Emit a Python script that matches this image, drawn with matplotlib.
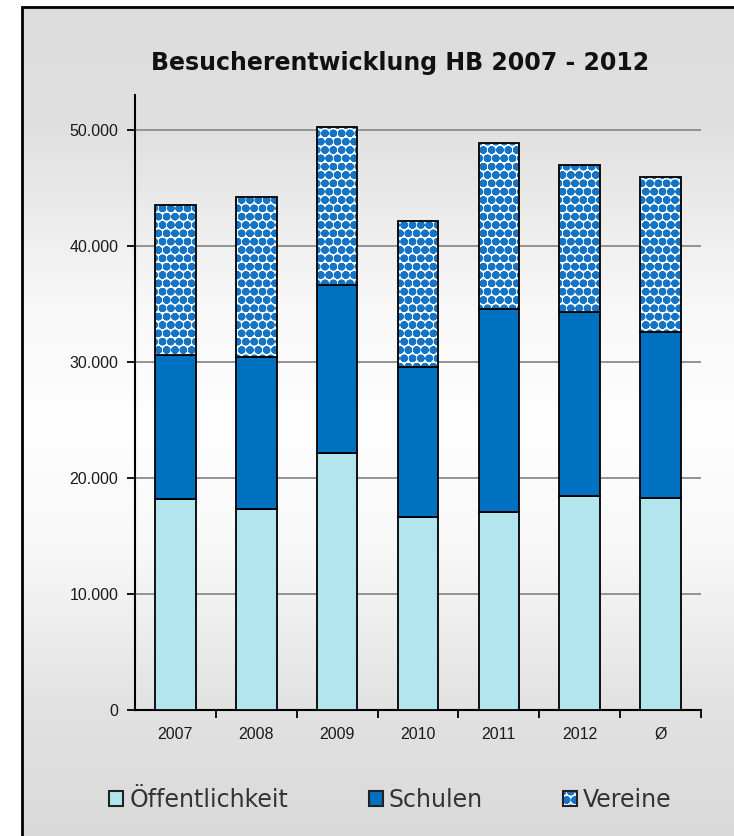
import numpy as np
import matplotlib.pyplot as plt
from matplotlib.patches import Rectangle
from matplotlib.ticker import FuncFormatter, FixedLocator

# Daten
jahre = ['2007', '2008', '2009', '2010', '2011', '2012', 'Ø']
oeffentlichkeit = [18190, 17330, 22150, 16610, 17100, 18450, 18300]
schulen = [12410, 13100, 14490, 12930, 17440, 15890, 14300]
vereine = [12940, 13790, 13620, 12640, 14310, 12640, 13300]

plt.rcParams['hatch.linewidth'] = 3.0

fig = plt.figure(figsize=(7.34, 8.36), dpi=100)
fig.patch.set_facecolor('white')

# Hintergrund mit Verlauf
bg = fig.add_axes([22 / 734, 0, 1 - 22 / 734, 1 - 7 / 836], zorder=-5)
py = np.array([0, 120, 300, 420, 540, 700, 829])
grau = np.array([220, 224, 248, 254, 248, 226, 217]) / 255
verlauf = np.interp(np.arange(829), py, grau)
bg.imshow(np.repeat(verlauf[:, None], 3, axis=1)[:, :, None].repeat(3, axis=2),
          aspect='auto', extent=[0, 1, 0, 1], origin='upper', interpolation='bilinear')
bg.set_xlim(0, 1)
bg.set_ylim(0, 1)
bg.axis('off')
fig.add_artist(Rectangle((22 / 734, -0.05), 1.1, 1 - 7 / 836 + 0.05, transform=fig.transFigure,
                         fill=False, edgecolor='black', linewidth=2, zorder=-4))

ax = fig.add_axes([135 / 734, 126 / 836, 566 / 734, 615 / 836])
ax.set_facecolor('none')

x = np.arange(len(jahre))
breite = 0.5
unten2 = np.array(oeffentlichkeit)
unten3 = unten2 + np.array(schulen)

blau = '#0070C0'
ax.bar(x, oeffentlichkeit, breite, color='#B3E5EE', edgecolor='black', linewidth=1.3, zorder=3)
ax.bar(x, schulen, breite, bottom=unten2, color=blau, edgecolor='black', linewidth=1.3, zorder=3)
ax.bar(x, vereine, breite, bottom=unten3, color='white', edgecolor='#1575C4',
       hatch='oo', linewidth=0, zorder=3)
ax.bar(x, vereine, breite, bottom=unten3, fill=False, edgecolor='black', linewidth=1.3, zorder=4)

ax.set_xlim(-0.5, len(jahre) - 0.5)
ax.set_ylim(0, 53000)
ax.set_yticks([0, 10000, 20000, 30000, 40000, 50000])
ax.yaxis.set_major_formatter(FuncFormatter(lambda v, p: f'{int(v):,}'.replace(',', '.')))
ax.grid(axis='y', color='#8C8C8C', linewidth=1.3, zorder=1)

ax.set_xticks(x)
ax.set_xticklabels(jahre)
ax.tick_params(axis='x', which='major', length=0, pad=12)
ax.xaxis.set_minor_locator(FixedLocator(np.arange(0.5, len(jahre), 1)))
ax.tick_params(axis='x', which='minor', length=6, width=1.3, color='black')
ax.tick_params(axis='y', length=6, width=1.3, pad=6)
for lab in ax.get_xticklabels() + ax.get_yticklabels():
    lab.set_fontfamily('Liberation Sans')
    lab.set_fontsize(11.5)
    lab.set_color('#1a1a1a')

for s in ['top', 'right']:
    ax.spines[s].set_visible(False)
for s in ['left', 'bottom']:
    ax.spines[s].set_linewidth(1.5)

fig.text(0.545, 1 - 63 / 836, 'Besucherentwicklung HB 2007 - 2012', ha='center', va='center',
         fontsize=17, fontweight='bold', color='#111111')

# Legende
h1 = Rectangle((0, 0), 1, 1, facecolor='#B3E5EE', edgecolor='#222222', linewidth=1.5)
h2 = Rectangle((0, 0), 1, 1, facecolor=blau, edgecolor='#222222', linewidth=1.5)
h3a = Rectangle((0, 0), 1, 1, facecolor='white', edgecolor='#1575C4', hatch='oo', linewidth=0)
h3b = Rectangle((0, 0), 1, 1, fill=False, edgecolor='#222222', linewidth=1.5)
leg = fig.legend([h1, h2, (h3a, h3b)], ['Öffentlichkeit', 'Schulen', 'Vereine'], loc='center',
                 bbox_to_anchor=(0.532, 1 - 800 / 836), ncol=3, frameon=False,
                 fontsize=17, handlelength=0.6, handleheight=0.6, handletextpad=0.25,
                 columnspacing=3.4)
for t in leg.get_texts():
    t.set_color('#333333')

fig.savefig('out.png', dpi=100)
